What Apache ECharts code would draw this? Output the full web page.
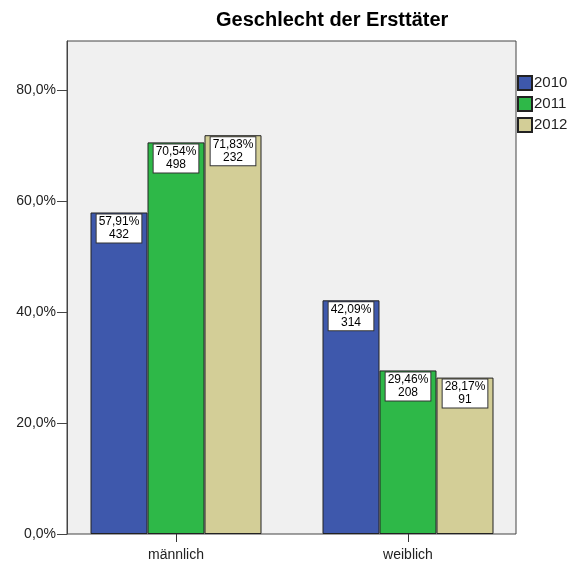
<!DOCTYPE html>
<html>
<head>
<meta charset="utf-8">
<script src="https://cdn.jsdelivr.net/npm/echarts@6/dist/echarts.min.js"></script>
<style>html,body{margin:0;padding:0;background:#fff}#c{width:568px;height:562px}</style>
</head>
<body>
<div id="c"></div>
<script>
var categories = ['männlich', 'weiblich'];
var years = ['2010', '2011', '2012'];
var pct2010 = [57.91, 42.09];
var pct2011 = [70.54, 29.46];
var pct2012 = [71.83, 28.17];
var n2010 = [432, 314];
var n2011 = [498, 208];
var n2012 = [232, 91];
var yTicks = [0, 20, 40, 60, 80];

var colors = ['#3E58AC', '#2EB848', '#D3CE97'];
var pcts = [pct2010, pct2011, pct2012];
var counts = [n2010, n2011, n2012];
var FONT = '"Liberation Sans", Arial, sans-serif';
var yMax = 88.8;

function fmtPct(v, d) { return v.toFixed(d).replace('.', ',') + '%'; }

var series = years.map(function (y, i) {
  return {
    name: y,
    type: 'bar',
    xAxisIndex: 1,
    yAxisIndex: 1,
    barWidth: 57,
    barGap: '0%',
    data: pcts[i],
    itemStyle: { color: colors[i], borderColor: '#222', borderWidth: 1 },
    label: {
      show: true,
      position: 'insideTop',
      distance: 2,
      formatter: function (p) { return fmtPct(p.value, 2) + '\n' + counts[i][p.dataIndex]; },
      backgroundColor: '#fff',
      borderColor: '#333',
      borderWidth: 1,
      padding: [1, 2, 1, 2],
      fontSize: 12,
      lineHeight: 13,
      color: '#000',
      fontFamily: FONT,
      align: 'center'
    },
    emphasis: { disabled: true }
  };
});

var chart = echarts.init(document.getElementById('c'), null, { renderer: 'canvas' });
chart.setOption({
  animation: false,
  backgroundColor: '#fff',
  title: {
    text: 'Geschlecht der Ersttäter',
    left: 216, top: 10, padding: 0,
    textStyle: { fontSize: 20, fontWeight: 'bold', color: '#000', fontFamily: FONT }
  },
  legend: {
    orient: 'vertical',
    left: 517, top: 75, padding: 0,
    itemWidth: 14, itemHeight: 14, itemGap: 5,
    icon: 'rect',
    textStyle: { fontSize: 15, color: '#222', fontFamily: FONT, padding: [0, 0, 0, -3] },
    data: years
  },
  grid: [
    { left: 67, right: 52, top: 41, bottom: 28, show: true, backgroundColor: '#F0F0F0', borderColor: '#444', borderWidth: 1 },
    { left: 60, right: 44, top: 41, bottom: 28 }
  ],
  xAxis: [
    { gridIndex: 0, type: 'category', data: categories, show: false },
    {
      gridIndex: 1, type: 'category', data: categories,
      axisLine: { show: false },
      axisTick: { show: true, alignWithLabel: true, length: 8, lineStyle: { color: '#333' } },
      axisLabel: { fontSize: 14, color: '#222', margin: 14, fontFamily: FONT }
    }
  ],
  yAxis: [
    {
      gridIndex: 0, type: 'value', min: 0, max: yMax, interval: 20,
      axisLine: { show: true, lineStyle: { color: '#444' } },
      axisTick: { show: true, length: 10, lineStyle: { color: '#444' }, customValues: yTicks },
      axisLabel: {
        fontSize: 14, color: '#222', margin: 11, fontFamily: FONT,
        customValues: yTicks,
        formatter: function (v) { return fmtPct(v, 1); }
      },
      splitLine: { show: false }
    },
    { gridIndex: 1, type: 'value', min: 0, max: yMax, show: false, splitLine: { show: false } }
  ],
  series: series
});
</script>
</body>
</html>
